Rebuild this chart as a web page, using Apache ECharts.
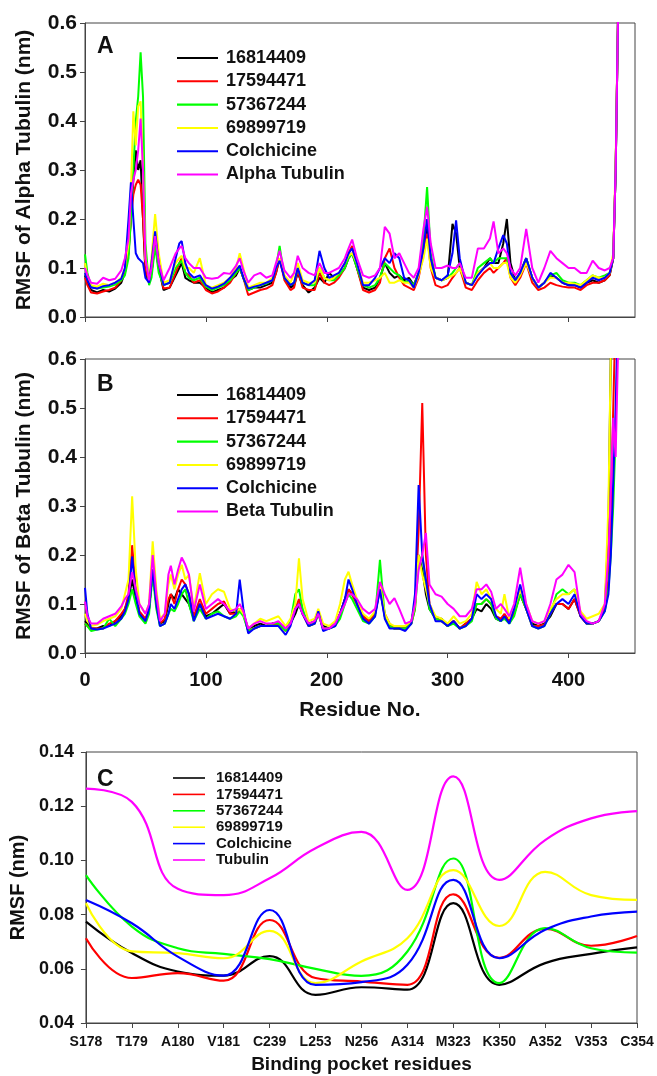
<!DOCTYPE html>
<html>
<head>
<meta charset="utf-8">
<script src="https://cdn.jsdelivr.net/npm/echarts@6/dist/echarts.min.js"></script>
<style>
html,body{margin:0;padding:0;background:#fff;}
#chart{width:657px;height:1076px;}
</style>
</head>
<body>
<div id="chart"></div>
<script>
// ---------- Panel A: RMSF of alpha tubulin ----------
const residuesA = [0,2,5,10,15,20,25,30,33,36,
38,40,42,44,46,48,50,53,55,58,
61,65,70,75,78,80,83,86,90,95,
100,105,110,115,120,125,128,131,135,140,
145,150,155,158,161,165,170,173,176,180,
185,190,194,198,202,206,210,215,218,221,
225,230,235,240,244,248,252,256,260,264,
268,272,276,280,283,286,290,295,300,304,
307,310,315,320,325,330,335,338,342,346,
349,352,356,360,365,370,375,380,385,390,
395,400,405,410,415,420,425,430,434,437,
439,441,443];
const alpha16814409 = [.085,.07,.055,.05,.055,.052,.058,.07,.09,.13,
.2,.28,.34,.3,.32,.2,.09,.07,.09,.15,
.1,.055,.06,.085,.1,.11,.08,.075,.07,.07,
.06,.05,.055,.06,.075,.085,.1,.08,.055,.06,
.06,.065,.07,.09,.12,.08,.06,.065,.09,.065,
.05,.06,.08,.07,.09,.08,.085,.1,.12,.13,
.1,.06,.055,.06,.08,.11,.09,.08,.085,.075,
.08,.065,.09,.13,.18,.12,.08,.075,.08,.19,
.17,.1,.07,.065,.09,.1,.12,.11,.11,.15,
.2,.11,.075,.09,.12,.08,.06,.07,.085,.08,
.07,.065,.065,.06,.07,.075,.07,.075,.085,.12,
.3,.62,.9];
const alpha17594471 = [.08,.065,.05,.048,.052,.055,.06,.075,.095,.14,
.2,.25,.27,.28,.27,.2,.1,.07,.09,.155,
.1,.058,.06,.09,.11,.12,.09,.085,.07,.075,
.055,.048,.052,.06,.07,.09,.1,.08,.045,.05,
.055,.058,.065,.09,.12,.075,.055,.06,.095,.06,
.055,.055,.09,.07,.065,.07,.08,.1,.13,.145,
.1,.055,.05,.055,.07,.12,.14,.1,.08,.065,
.06,.055,.08,.13,.17,.1,.065,.06,.065,.08,
.09,.1,.06,.055,.075,.09,.1,.09,.1,.11,
.12,.08,.065,.08,.11,.07,.055,.06,.07,.065,
.062,.06,.06,.055,.065,.07,.07,.075,.085,.12,
.3,.62,.9];
const alpha57367244 = [.128,.09,.062,.058,.06,.062,.066,.075,.085,.12,
.2,.3,.4,.45,.54,.45,.15,.065,.08,.145,
.09,.065,.07,.1,.11,.115,.09,.08,.075,.08,
.062,.055,.06,.065,.075,.09,.1,.08,.055,.06,
.065,.068,.075,.1,.145,.08,.065,.07,.1,.07,
.065,.065,.1,.08,.075,.075,.085,.1,.12,.13,
.1,.065,.06,.065,.08,.11,.1,.09,.085,.07,
.075,.065,.09,.16,.265,.13,.08,.075,.08,.09,
.1,.11,.07,.065,.1,.11,.12,.11,.12,.12,
.12,.09,.075,.09,.12,.08,.06,.07,.085,.09,
.075,.07,.07,.065,.075,.085,.08,.085,.09,.12,
.3,.62,.9];
const alpha69899719 = [.11,.08,.065,.062,.068,.065,.07,.08,.1,.15,
.26,.42,.35,.43,.44,.3,.12,.08,.12,.21,
.13,.07,.075,.11,.12,.125,.1,.1,.09,.12,
.065,.06,.065,.07,.08,.1,.13,.1,.06,.065,
.07,.07,.08,.1,.12,.085,.07,.09,.11,.075,
.07,.07,.1,.08,.075,.08,.09,.11,.125,.13,
.11,.07,.07,.075,.08,.09,.07,.07,.075,.07,
.07,.06,.085,.12,.16,.1,.08,.075,.08,.085,
.09,.1,.07,.065,.09,.1,.11,.1,.1,.11,
.11,.08,.07,.085,.11,.08,.06,.07,.08,.08,
.07,.07,.068,.065,.075,.085,.08,.08,.09,.13,
.32,.62,.9];
const alphaColchicine = [.09,.075,.06,.058,.063,.065,.07,.078,.1,.2,
.275,.2,.13,.12,.115,.11,.08,.07,.11,.175,
.11,.065,.07,.12,.15,.155,.11,.09,.08,.085,
.065,.058,.062,.068,.08,.095,.105,.08,.058,.062,
.065,.07,.075,.1,.115,.08,.065,.07,.1,.07,
.065,.075,.135,.1,.08,.085,.09,.11,.13,.14,
.11,.065,.065,.08,.1,.12,.11,.13,.12,.08,
.075,.06,.09,.14,.2,.12,.08,.075,.085,.13,
.197,.12,.07,.065,.085,.1,.11,.11,.14,.167,
.15,.09,.075,.09,.12,.08,.06,.07,.09,.08,
.07,.065,.065,.06,.07,.08,.075,.08,.09,.12,
.3,.62,.9];
const alphaTubulin = [.1,.085,.07,.068,.08,.075,.078,.095,.12,.16,
.25,.28,.3,.34,.405,.3,.12,.075,.1,.165,
.11,.075,.1,.13,.14,.145,.12,.11,.1,.1,
.08,.078,.08,.09,.088,.105,.12,.095,.07,.085,
.09,.08,.085,.11,.135,.095,.08,.09,.125,.1,
.09,.085,.11,.09,.09,.095,.1,.12,.14,.158,
.12,.085,.08,.085,.1,.184,.17,.12,.13,.11,
.09,.08,.1,.18,.225,.15,.1,.1,.105,.1,
.1,.11,.08,.08,.14,.14,.16,.195,.13,.14,
.13,.1,.085,.1,.18,.1,.07,.1,.135,.12,
.11,.1,.1,.09,.09,.115,.1,.095,.1,.12,
.3,.62,.9];

// ---------- Panel B: RMSF of beta tubulin ----------
const residuesB = [0,2,5,10,15,20,25,30,33,36,
39,42,45,50,53,56,59,62,66,69,
71,74,77,80,83,86,90,95,100,105,
110,115,120,125,128,131,135,140,145,150,
155,160,166,170,174,177,180,185,190,193,
197,202,207,211,215,218,221,225,230,235,
240,244,248,252,256,260,265,270,273,276,
279,282,285,290,295,300,305,310,315,320,
324,328,332,336,340,344,347,351,355,360,
365,370,375,380,385,390,395,400,405,410,
415,420,425,430,433,435,437,439,441,443];
const beta16814409 = [.065,.06,.05,.05,.055,.055,.065,.075,.09,.11,
.15,.11,.08,.065,.09,.17,.1,.06,.065,.1,
.12,.11,.13,.12,.11,.1,.07,.1,.075,.08,
.09,.1,.08,.085,.09,.08,.05,.055,.06,.055,
.06,.06,.05,.06,.08,.1,.08,.06,.065,.085,
.055,.05,.06,.08,.11,.13,.12,.1,.075,.065,
.08,.13,.075,.055,.05,.05,.05,.065,.1,.2,
.17,.12,.09,.07,.07,.055,.065,.05,.06,.07,
.09,.085,.1,.09,.07,.065,.075,.065,.08,.12,
.09,.06,.055,.06,.075,.1,.1,.09,.11,.075,
.06,.06,.065,.09,.25,.62,.9,.9,.9,.9];
const beta17594471 = [.06,.055,.05,.05,.05,.06,.065,.08,.09,.12,
.22,.13,.085,.07,.09,.17,.1,.06,.07,.11,
.12,.1,.13,.15,.14,.12,.075,.11,.08,.09,
.1,.105,.08,.08,.09,.08,.045,.05,.055,.055,
.06,.058,.045,.06,.09,.11,.08,.055,.06,.08,
.05,.05,.06,.08,.11,.13,.12,.1,.075,.065,
.08,.135,.08,.06,.05,.05,.05,.06,.09,.25,
.51,.2,.1,.07,.065,.055,.065,.05,.06,.07,
.1,.1,.11,.1,.075,.07,.08,.065,.08,.12,
.09,.055,.055,.058,.08,.1,.1,.09,.11,.075,
.06,.06,.065,.09,.15,.3,.5,.7,.9,.9];
const beta57367244 = [.06,.055,.045,.048,.05,.07,.055,.07,.08,.1,
.13,.1,.075,.06,.08,.16,.09,.055,.06,.08,
.09,.085,.1,.12,.13,.1,.065,.09,.07,.08,
.085,.075,.07,.075,.085,.075,.045,.05,.055,.055,
.06,.06,.045,.065,.12,.13,.09,.055,.06,.08,
.05,.05,.055,.07,.1,.12,.11,.09,.065,.06,
.075,.19,.075,.055,.05,.05,.05,.06,.09,.18,
.2,.14,.09,.07,.065,.055,.06,.05,.055,.065,
.1,.1,.11,.1,.07,.065,.07,.06,.075,.12,
.09,.055,.05,.055,.08,.12,.13,.12,.13,.08,
.06,.06,.065,.085,.13,.2,.3,.45,.7,.9];
const beta69899719 = [.08,.065,.055,.058,.065,.07,.075,.09,.12,.15,
.32,.17,.1,.08,.1,.228,.13,.07,.08,.14,
.16,.13,.16,.18,.15,.16,.09,.163,.1,.12,
.13,.125,.09,.085,.09,.08,.05,.06,.07,.065,
.07,.075,.055,.07,.1,.193,.11,.065,.07,.09,
.06,.055,.065,.1,.15,.166,.14,.11,.08,.07,
.085,.14,.08,.06,.055,.055,.055,.065,.1,.2,
.16,.13,.1,.075,.07,.06,.075,.06,.065,.08,
.145,.12,.13,.11,.09,.08,.12,.07,.09,.13,
.1,.065,.06,.065,.09,.11,.12,.12,.13,.085,
.07,.075,.08,.1,.3,.62,.9,.9,.9,.9];
const betaColchicine = [.133,.08,.05,.048,.05,.055,.06,.07,.085,.11,
.197,.12,.08,.065,.09,.17,.1,.055,.06,.08,
.1,.09,.11,.13,.14,.12,.065,.1,.07,.075,
.08,.075,.07,.08,.15,.09,.04,.05,.055,.055,
.055,.055,.037,.055,.09,.1,.08,.055,.06,.085,
.045,.05,.055,.08,.11,.15,.13,.1,.07,.06,
.075,.13,.07,.05,.05,.05,.045,.06,.12,.343,
.2,.15,.1,.065,.065,.055,.065,.05,.055,.07,
.12,.11,.12,.11,.075,.065,.075,.06,.09,.14,
.09,.055,.05,.055,.08,.1,.11,.1,.12,.075,
.06,.06,.065,.085,.12,.2,.35,.5,.7,.9];
const betaTubulin = [.105,.075,.06,.06,.07,.075,.08,.095,.11,.12,
.165,.13,.1,.08,.1,.2,.12,.065,.08,.16,
.178,.14,.17,.195,.18,.16,.085,.14,.09,.1,
.11,.1,.085,.09,.1,.085,.05,.06,.065,.06,
.06,.065,.05,.06,.09,.1,.08,.06,.065,.08,
.05,.05,.06,.08,.1,.12,.12,.11,.09,.08,
.09,.145,.12,.1,.112,.09,.06,.065,.1,.17,
.2,.245,.14,.12,.115,.1,.09,.075,.075,.09,
.13,.13,.14,.125,.09,.1,.09,.075,.1,.174,
.1,.065,.06,.065,.1,.15,.16,.18,.165,.08,
.065,.06,.065,.1,.2,.33,.48,.4,.62,.9];

// ---------- Panel C: binding pocket residues ----------
const pocketResidues = ['S178','T179','A180','V181','C239','L253','N256','A314','M323','K350','A352','V353','C354'];
const pocket16814409 = [.0774,.0658,.059,.0575,.0647,.0504,.0532,.0523,.0842,.0541,.0621,.0655,.0679];
const pocket17594471 = [.0713,.0566,.0584,.0556,.078,.0566,.0553,.0541,.0875,.064,.0747,.0685,.0721];
const pocket57367244 = [.0946,.0756,.0676,.0655,.0636,.0600,.0574,.0664,.1007,.0547,.075,.0676,.066];
const pocket69899719 = [.0842,.0664,.0658,.0639,.074,.0547,.0627,.0713,.0964,.0758,.0958,.0872,.0854];
const pocketColchicine = [.0854,.0768,.0645,.0575,.0817,.0541,.0551,.0615,.0928,.0639,.0744,.0793,.0811];
const pocketTubulin = [.1265,.1216,.0895,.0872,.0934,.1045,.1105,.0891,.131,.0928,.1075,.1155,.1182];

const residueTicks = [0, 100, 200, 300, 400];
const compoundNames = ['16814409','17594471','57367244','69899719','Colchicine'];
const colors = ['#000000','#ff0000','#00ff00','#ffff00','#0000ff','#ff00ff'];

const FONT = '"Liberation Sans", Arial, sans-serif';
const chart = echarts.init(document.getElementById('chart'), null, {renderer:'canvas'});

function lineSeries(name, xi, yi, data, color, width, smooth) {
  return {
    name: name, type: 'line', xAxisIndex: xi, yAxisIndex: yi,
    data: data, symbol: 'none', smooth: smooth || false,
    lineStyle: {color: color, width: width}, itemStyle: {color: color},
    animation: false, clip: true
  };
}
const series = [];
const alphaSets = [alpha16814409, alpha17594471, alpha57367244, alpha69899719, alphaColchicine, alphaTubulin];
const alphaNames = compoundNames.concat(['Alpha Tubulin']);
alphaSets.forEach((arr, k) => series.push(lineSeries(alphaNames[k], 0, 0, residuesA.map((r, i) => [r, arr[i]]), colors[k], 2)));
const betaSets = [beta16814409, beta17594471, beta57367244, beta69899719, betaColchicine, betaTubulin];
const betaNames = compoundNames.concat(['Beta Tubulin']);
betaSets.forEach((arr, k) => series.push(lineSeries(betaNames[k], 1, 1, residuesB.map((r, i) => [r, arr[i]]), colors[k], 2)));
const pocketSets = [pocket16814409, pocket17594471, pocket57367244, pocket69899719, pocketColchicine, pocketTubulin];
const pocketNames = compoundNames.concat(['Tubulin']);
pocketSets.forEach((arr, k) => series.push(lineSeries(pocketNames[k], 2, 2, arr, colors[k], 2.2, 0.45)));

const axisLine = {show: true, lineStyle: {color: '#444', width: 1}};
const axisTick = {show: true, length: 5, lineStyle: {color: '#444'}};
const resTick = {show: true, length: 5, lineStyle: {color: '#444'}, customValues: residueTicks};
const boldLabel = (size) => ({fontFamily: FONT, fontWeight: 'bold', fontSize: size, color: '#111'});

function legendFor(names, left, top, fontSize, lineH, gap, iw, pad) {
  return {
    orient: 'vertical', left: left, top: top, data: names,
    itemWidth: iw, itemHeight: 10, itemGap: gap,
    textStyle: Object.assign(boldLabel(fontSize), {lineHeight: lineH, padding: [0,0,0,pad]}),
    icon: 'path://M0,0 L40,0 L40,2 L0,2 Z'
  };
}

const option = {
  backgroundColor: '#fff',
  animation: false,
  grid: [
    {left: 85, top: 23, width: 550, height: 294, show: true, borderColor: '#444', borderWidth: 1, backgroundColor: 'transparent'},
    {left: 85, top: 359, width: 550, height: 294, show: true, borderColor: '#444', borderWidth: 1, backgroundColor: 'transparent'},
    {left: 84, top: 752, width: 553, height: 271, show: true, borderColor: '#444', borderWidth: 1, backgroundColor: 'transparent'}
  ],
  xAxis: [
    {type: 'value', gridIndex: 0, min: 0, max: 455, interval: 100, axisLine: axisLine, axisTick: resTick,
     axisLabel: {show: false}, splitLine: {show: false}},
    {type: 'value', gridIndex: 1, min: 0, max: 455, interval: 100, axisLine: axisLine, axisTick: resTick,
     axisLabel: Object.assign(boldLabel(20), {margin: 17, customValues: residueTicks}), splitLine: {show: false},
     name: 'Residue No.', nameLocation: 'middle', nameGap: 47, nameTextStyle: boldLabel(21)},
    {type: 'category', gridIndex: 2, data: pocketResidues, boundaryGap: false, axisLine: axisLine,
     axisTick: Object.assign({}, axisTick, {alignWithLabel: true}),
     axisLabel: Object.assign(boldLabel(14), {margin: 12, interval: 0}), splitLine: {show: false},
     name: 'Binding pocket residues', nameLocation: 'middle', nameGap: 32, nameTextStyle: boldLabel(19)}
  ],
  yAxis: [
    {type: 'value', gridIndex: 0, min: 0, max: 0.6, interval: 0.1, axisLine: axisLine, axisTick: axisTick,
     axisLabel: Object.assign(boldLabel(21), {margin: 8, formatter: v => v.toFixed(1)}), splitLine: {show: false},
     name: 'RMSF of Alpha Tubulin (nm)', nameLocation: 'middle', nameGap: 50, nameTextStyle: boldLabel(21)},
    {type: 'value', gridIndex: 1, min: 0, max: 0.6, interval: 0.1, axisLine: axisLine, axisTick: axisTick,
     axisLabel: Object.assign(boldLabel(21), {margin: 8, formatter: v => v.toFixed(1)}), splitLine: {show: false},
     name: 'RMSF of Beta Tubulin (nm)', nameLocation: 'middle', nameGap: 50, nameTextStyle: boldLabel(21)},
    {type: 'value', gridIndex: 2, min: 0.04, max: 0.14, interval: 0.02, axisLine: axisLine, axisTick: axisTick,
     axisLabel: Object.assign(boldLabel(18), {margin: 12, formatter: v => v.toFixed(2)}), splitLine: {show: false},
     name: 'RMSF (nm)', nameLocation: 'middle', nameGap: 52, nameTextStyle: boldLabel(20)}
  ],
  legend: [
    legendFor(alphaNames, 172, 43, 18, 20, 3.3, 41, 3),
    legendFor(betaNames, 172, 380, 18, 20, 3.3, 41, 3),
    legendFor(pocketNames, 168, 765, 15, 16, 0.4, 32, 6)
  ],
  graphic: [
    {type: 'text', left: 97, top: 35, style: {text: 'A', font: 'bold 23px ' + FONT, fill: '#111'}},
    {type: 'text', left: 97, top: 373, style: {text: 'B', font: 'bold 23px ' + FONT, fill: '#111'}},
    {type: 'text', left: 97, top: 768, style: {text: 'C', font: 'bold 23px ' + FONT, fill: '#111'}}
  ],
  series: series
};
chart.setOption(option);
</script>
</body>
</html>
